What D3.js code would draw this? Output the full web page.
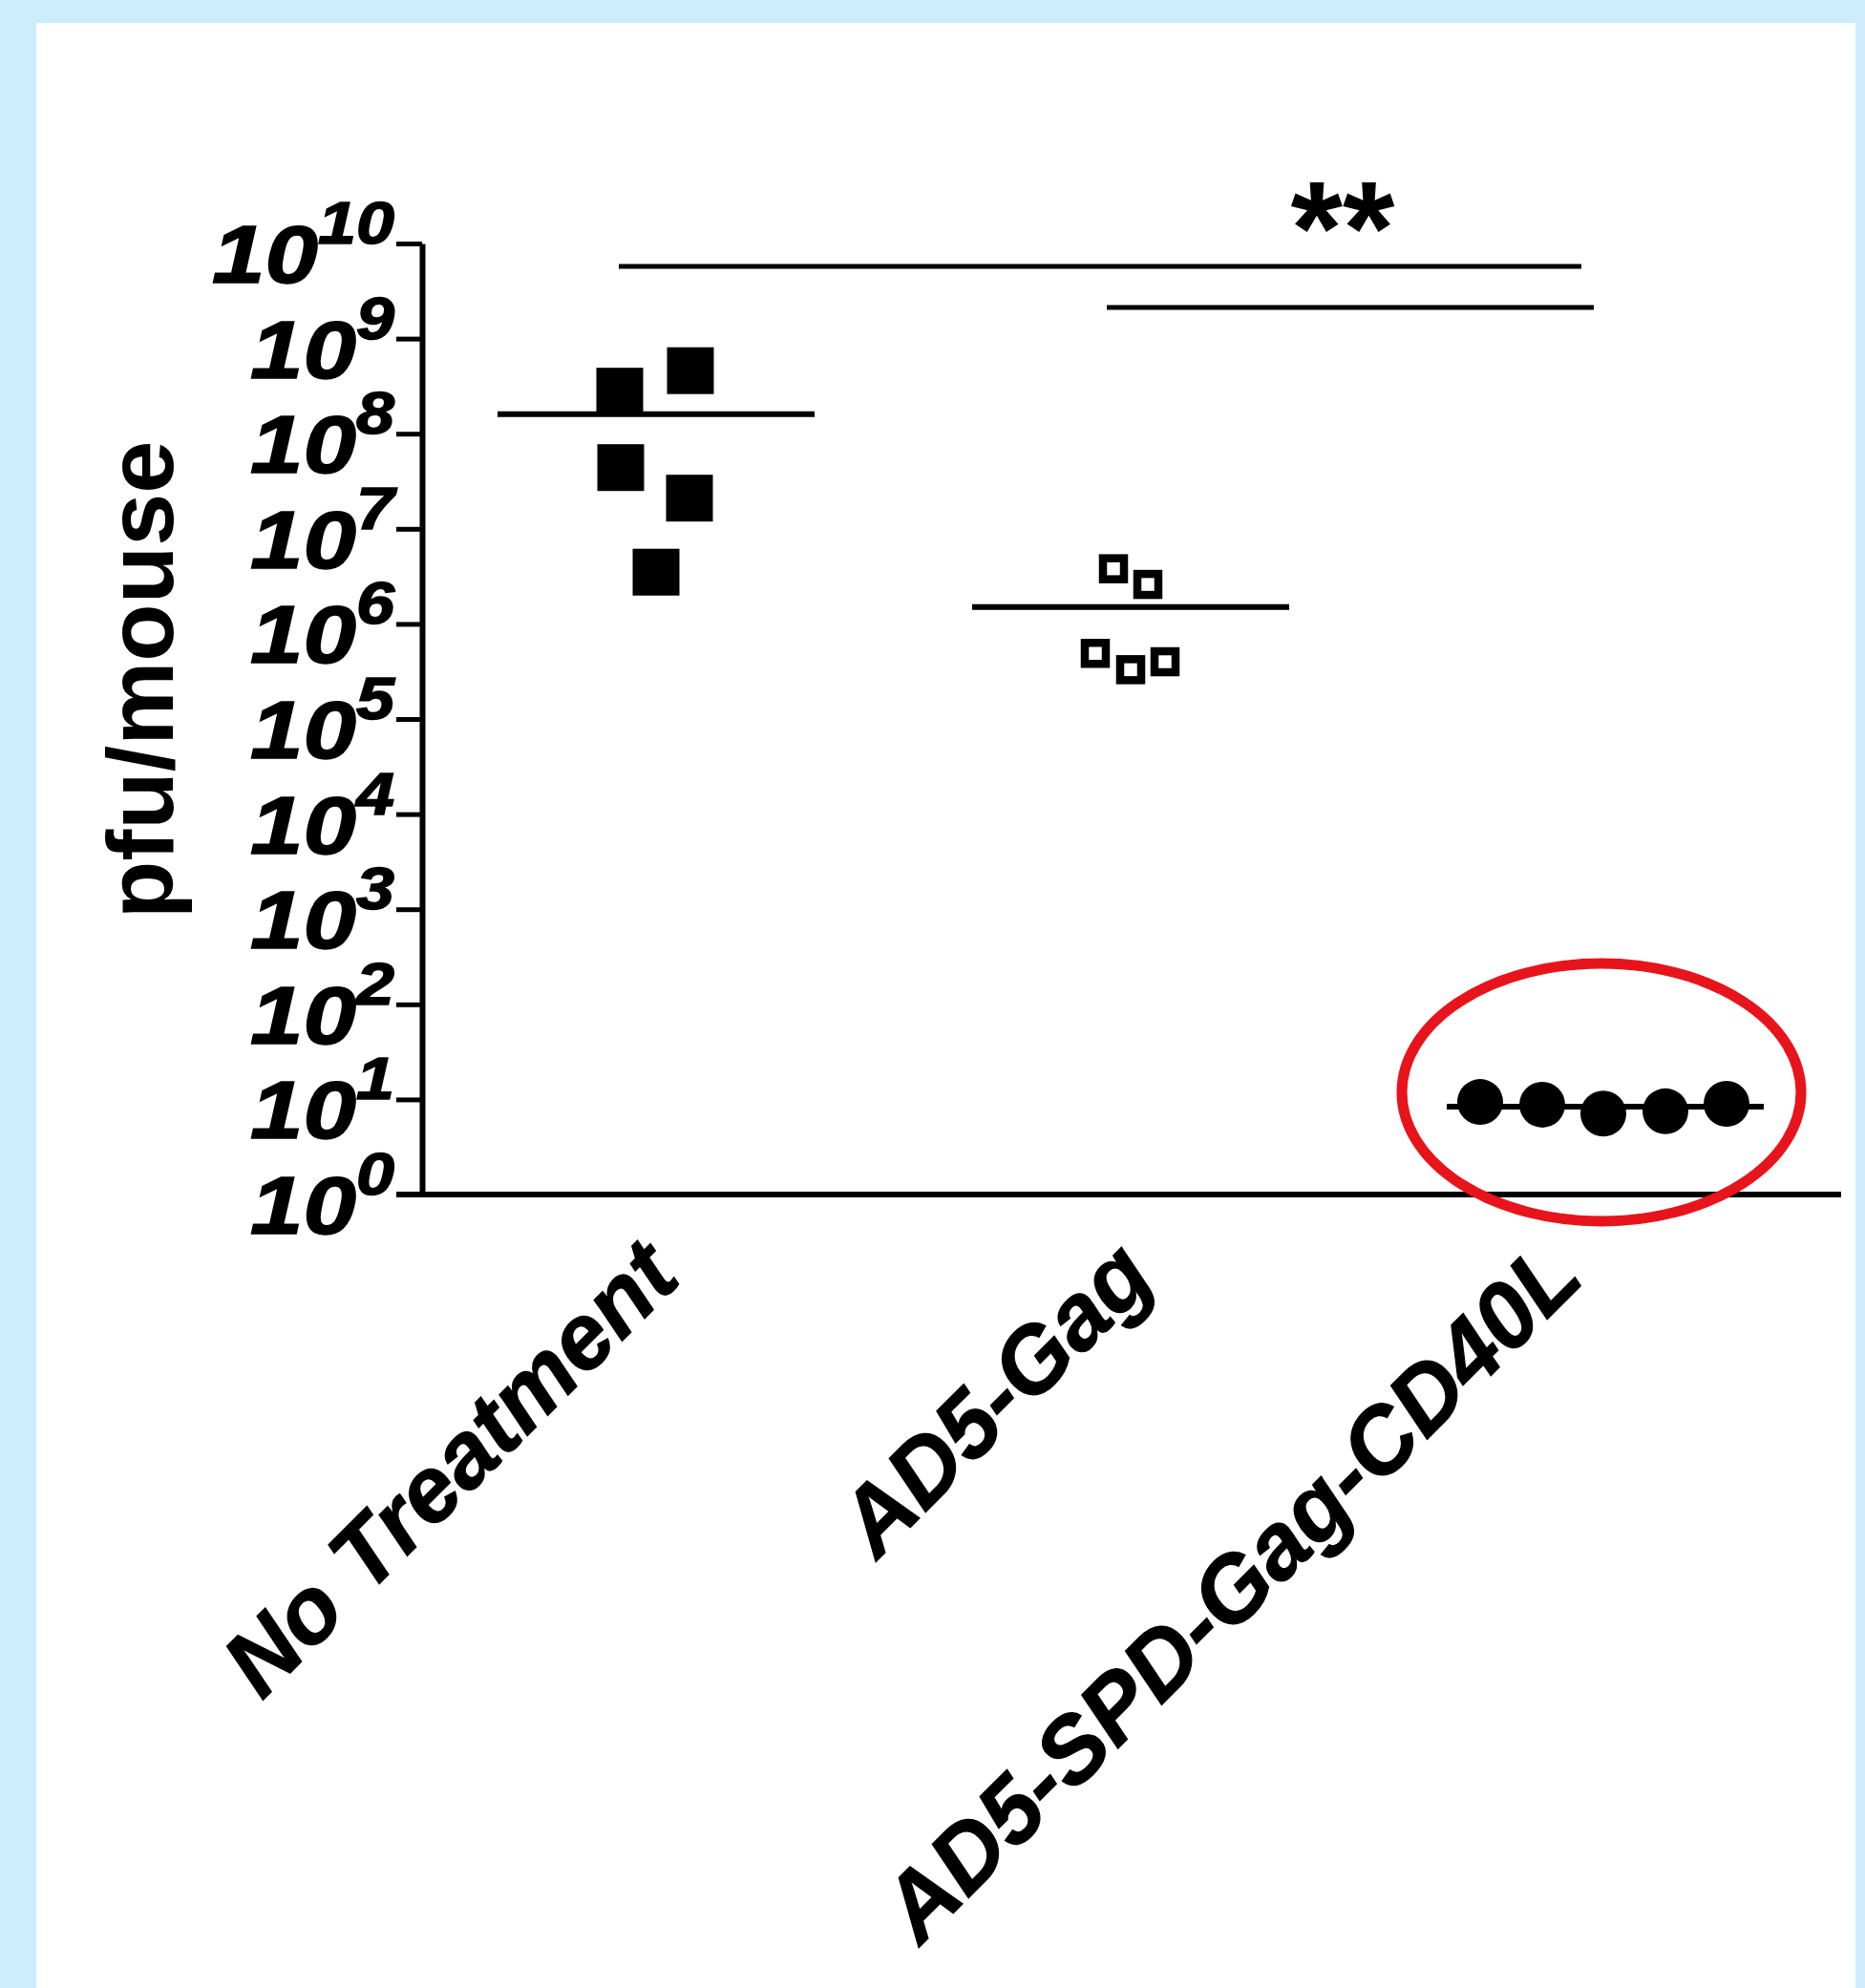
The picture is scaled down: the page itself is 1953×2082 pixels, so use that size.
<!DOCTYPE html>
<html>
<head>
<meta charset="utf-8">
<script src="https://cdn.jsdelivr.net/npm/d3@7"></script>
<style>
  html, body { margin: 0; padding: 0; background: #cdecfd; }
  svg { display: block; }
</style>
</head>
<body>
<svg id="chart" width="1953" height="2082"></svg>
<script>
// ---- DATA ----
const categories = ["No Treatment", "AD5-Gag", "AD5-SPD-Gag-CD40L"];
const noTreatment = [2.8e8, 4.6e8, 4.4e7, 2.1e7, 3.5e6];
const ad5Gag = [3.8e6, 2.6e6, 4.9e5, 3.3e5, 4.0e5];
const ad5SpdGagCd40l = [9.4, 8.8, 7.1, 7.5, 9.0];
const groupMeans = [1.6e8, 1.5e6, 8.4];
const yTickValues = [1, 1e1, 1e2, 1e3, 1e4, 1e5, 1e6, 1e7, 1e8, 1e9, 1e10];
const yTickExponents = ["0", "1", "2", "3", "4", "5", "6", "7", "8", "9", "10"];
const yTitle = "pfu/mouse";
const significanceLabel = "**";

// ---- LAYOUT ----
const svg = d3.select("#chart");
const W = 1953, H = 2082;
svg.append("rect").attr("x", 0).attr("y", 0).attr("width", W).attr("height", H).attr("fill", "#cdecfd");
svg.append("rect").attr("x", 38).attr("y", 24).attr("width", 1905).attr("height", H - 24).attr("fill", "#ffffff");

const axisX = 442;
const y = d3.scaleLog().domain([1, 1e10]).range([1251, 255]);
const x = d3.scalePoint().domain(categories).range([687, 1681]);

const fontMain = "'Liberation Sans', Arial, Helvetica, sans-serif";

// y axis
const yAxis = d3.axisLeft(y).tickValues(yTickValues).tickSize(27).tickSizeOuter(0).tickFormat("");
const gy = svg.append("g").attr("transform", `translate(${axisX},0)`).call(yAxis);
gy.select(".domain").attr("stroke", "#000").attr("stroke-width", 6);
gy.selectAll(".tick line").attr("stroke", "#000").attr("stroke-width", 5);

// y tick labels (slightly widened heavy italic)
const labels = svg.append("g");
yTickValues.forEach((v, i) => {
  const t = labels.append("text")
    .attr("transform", `translate(413,${y(v) + 41}) scale(1.16,1)`)
    .attr("text-anchor", "end")
    .attr("font-family", fontMain)
    .attr("font-weight", "bold")
    .attr("font-style", "italic")
    .attr("fill", "#000")
    .attr("stroke", "#000")
    .attr("stroke-width", 1.5);
  t.append("tspan").attr("font-size", 86).text("10");
  t.append("tspan").attr("font-size", 62).attr("dy", -41).text(yTickExponents[i]);
});

// x axis baseline
svg.append("line")
  .attr("x1", 415).attr("x2", 1928)
  .attr("y1", y(1)).attr("y2", y(1))
  .attr("stroke", "#000").attr("stroke-width", 6);

// y title
svg.append("text")
  .attr("transform", `translate(181,712) rotate(-90)`)
  .attr("text-anchor", "middle")
  .attr("font-family", fontMain)
  .attr("font-weight", "bold")
  .attr("font-size", 99)
  .attr("fill", "#000")
  .text(yTitle);

// x labels (end-anchored, rotated)
const labelDx = [28, 28, -20];
categories.forEach((c, i) => {
  svg.append("text")
    .attr("transform", `translate(${x(c) + labelDx[i]},1341) rotate(-45)`)
    .attr("text-anchor", "end")
    .attr("font-family", fontMain)
    .attr("font-weight", "bold")
    .attr("font-style", "italic")
    .attr("font-size", 97)
    .attr("fill", "#000")
    .attr("stroke", "#000")
    .attr("stroke-width", 1.2)
    .text(c);
});

// jitter (layout offsets, px)
const jitter = [[-38, 36, -37, 35, 0], [-18, 18, -37, 0, 36], [-131, -66, -2, 63, 127]];

// mean lines
const meanHalf = 166;
svg.append("g").selectAll("line").data(groupMeans).join("line")
  .attr("x1", (d, i) => x(categories[i]) - meanHalf)
  .attr("x2", (d, i) => x(categories[i]) + meanHalf)
  .attr("y1", d => y(d)).attr("y2", d => y(d))
  .attr("stroke", "#000").attr("stroke-width", 6);

// group 1: filled squares
const s1 = 49;
svg.append("g").selectAll("rect").data(noTreatment).join("rect")
  .attr("x", (d, i) => x(categories[0]) + jitter[0][i] - s1 / 2)
  .attr("y", d => y(d) - s1 / 2)
  .attr("width", s1).attr("height", s1)
  .attr("fill", "#000");

// group 2: open squares
const s2 = 22;
svg.append("g").selectAll("rect").data(ad5Gag).join("rect")
  .attr("x", (d, i) => x(categories[1]) + jitter[1][i] - s2 / 2)
  .attr("y", d => y(d) - s2 / 2)
  .attr("width", s2).attr("height", s2)
  .attr("fill", "#fff").attr("stroke", "#000").attr("stroke-width", 8.5);

// group 3: filled circles
svg.append("g").selectAll("circle").data(ad5SpdGagCd40l).join("circle")
  .attr("cx", (d, i) => x(categories[2]) + jitter[2][i])
  .attr("cy", d => y(d))
  .attr("r", 24)
  .attr("fill", "#000");

// significance lines
svg.append("line")
  .attr("x1", x(categories[0]) - 39).attr("x2", x(categories[2]) - 25)
  .attr("y1", 279).attr("y2", 279)
  .attr("stroke", "#000").attr("stroke-width", 5);
svg.append("line")
  .attr("x1", x(categories[1]) - 25).attr("x2", x(categories[2]) - 12)
  .attr("y1", 322).attr("y2", 322)
  .attr("stroke", "#000").attr("stroke-width", 5);
svg.append("text")
  .attr("x", 1406).attr("y", 287)
  .attr("text-anchor", "middle")
  .attr("font-family", fontMain)
  .attr("font-weight", "bold")
  .attr("font-size", 140)
  .attr("fill", "#000")
  .text(significanceLabel);

// red ellipse highlight
svg.append("ellipse")
  .attr("cx", 1677).attr("cy", 1144)
  .attr("rx", 209).attr("ry", 135)
  .attr("fill", "none")
  .attr("stroke", "#e8141b")
  .attr("stroke-width", 11);
</script>
</body>
</html>
